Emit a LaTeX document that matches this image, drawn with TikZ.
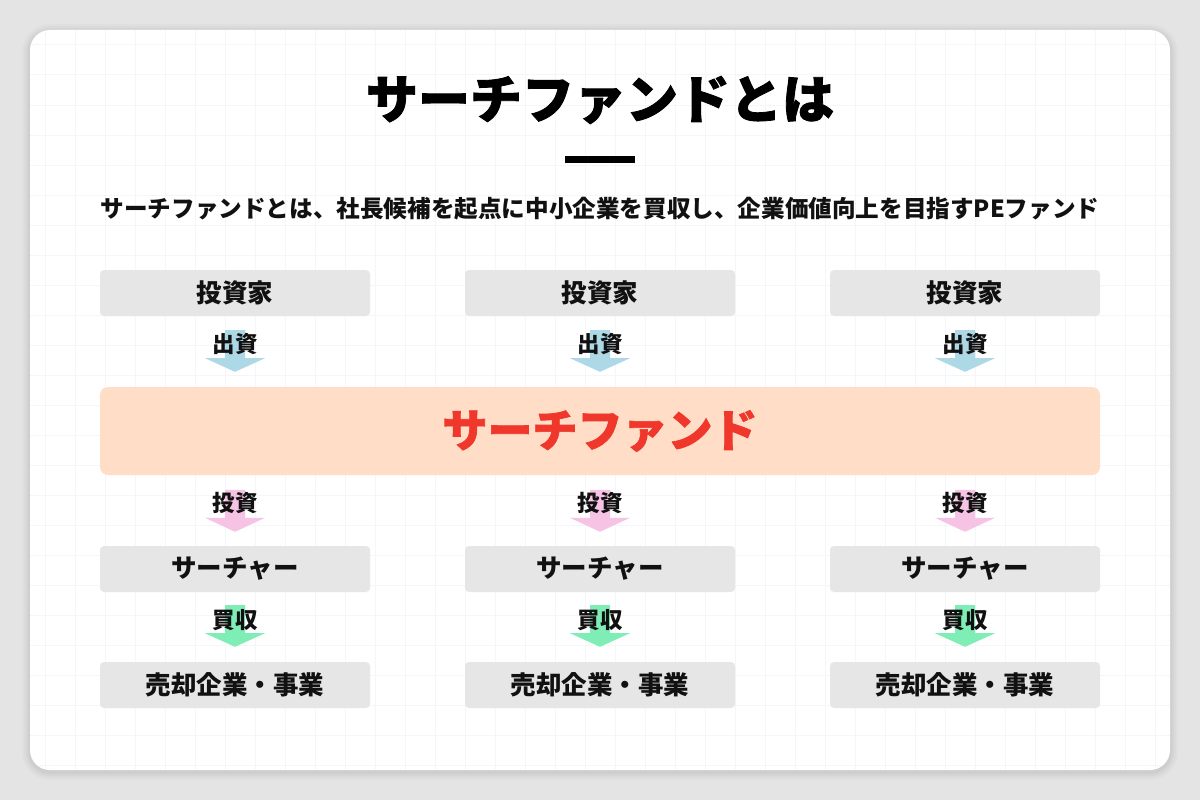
\documentclass[tikz,border=0pt]{standalone}
\usepackage{fontspec}
\setmainfont{Noto Sans CJK JP}
\newfontfamily\jp{Noto Sans CJK JP}
\newfontfamily\jpheavy[BoldFeatures={FakeBold=1.6}]{Noto Sans CJK JP}
\usetikzlibrary{calc}
\definecolor{bgout}{HTML}{E4E4E4}
\definecolor{gridc}{HTML}{F4F6FA}
\definecolor{boxg}{HTML}{E6E6E6}
\definecolor{orbox}{HTML}{FFDDC6}
\definecolor{redt}{HTML}{F0372B}
\definecolor{ablue}{HTML}{ADD8E6}
\definecolor{apink}{HTML}{F7C3E4}
\definecolor{agreen}{HTML}{7EEDB6}
\definecolor{ink}{HTML}{111111}
\tikzset{
  graybox/.style={fill=boxg, rounded corners=4pt, minimum width=270pt, minimum height=46pt, inner sep=0pt, font=\jp\bfseries\fontsize{25.5}{25.5}\selectfont, text=ink},
  albl/.style={font=\jp\bfseries\fontsize{22.5}{22.5}\selectfont, text=ink, inner sep=0pt},
}
\begin{document}
\begin{tikzpicture}[x=1pt,y=-1pt]
\useasboundingbox (0,0) rectangle (1200,800);
\fill[bgout] (0,0) rectangle (1200,800);
% shadow
\foreach \s/\o in {8/0.015,6/0.02,4/0.025,2/0.03}{
  \fill[black, opacity=\o, rounded corners=20pt+\s] (30-\s,30-\s+2) rectangle (1170+\s,770+\s+2);
}
\fill[white, rounded corners=20pt] (30,30) rectangle (1170,770);
\begin{scope}
\clip[rounded corners=20pt] (30,30) rectangle (1170,770);
\foreach \gx in {45,75,...,1170}{\draw[gridc, line width=1pt] (\gx,30) -- (\gx,770);}
\foreach \gy in {45,75,...,770}{\draw[gridc, line width=1pt] (30,\gy) -- (1170,\gy);}
\end{scope}
% title
\node[font=\jpheavy\bfseries\fontsize{52}{52}\selectfont, text=black, inner sep=0pt] (title) at (600,100) {サーチファンドとは};
\fill[black] (565,156) rectangle (635,163);
\node[font=\jp\bfseries\fontsize{23.6}{23.6}\selectfont, text=ink, inner sep=0pt] (sub) at (600,209) {サーチファンドとは、社長候補を起点に中小企業を買収し、企業価値向上を目指すPEファンド};
% fund
\node[fill=orbox, rounded corners=8pt, minimum width=1000pt, minimum height=88pt, inner sep=0pt, font=\jpheavy\bfseries\fontsize{45}{45}\selectfont, text=redt] (fund) at (600,431) {サーチファンド};
\foreach \i/\cx in {1/235,2/600,3/965}{
  \node[graybox] (inv\i) at (\cx,293) {投資家};
  \node[graybox] (sch\i) at (\cx,569) {サーチャー};
  \node[graybox] (tgt\i) at (\cx,685) {売却企業・事業};
  % arrows
  \fill[ablue] ($(inv\i.south)+(-10,14)$) -- ++(20,0) -- ++(0,28) -- ++(20,0) -- ($(fund.north -| inv\i.south)+(0,-15)$) -- ($(inv\i.south)+(-30,42)$) -- ++(20,0) -- cycle;
  \node[albl] (l1\i) at ($(inv\i.south)+(0,28)$) {出資};
  \fill[apink] ($(sch\i.north)+(-10,-56)$) -- ++(20,0) -- ++(0,28) -- ++(20,0) -- ($(sch\i.north)+(0,-14)$) -- ($(sch\i.north)+(-30,-28)$) -- ++(20,0) -- cycle;
  \node[albl] (l2\i) at ($(sch\i.north)+(0,-43)$) {投資};
  \fill[agreen] ($(sch\i.south)+(-10,13)$) -- ++(20,0) -- ++(0,28) -- ++(20,0) -- ($(tgt\i.north)+(0,-15)$) -- ($(sch\i.south)+(-30,41)$) -- ++(20,0) -- cycle;
  \node[albl] (l3\i) at ($(sch\i.south)+(0,28)$) {買収};
}
\end{tikzpicture}
\end{document}
